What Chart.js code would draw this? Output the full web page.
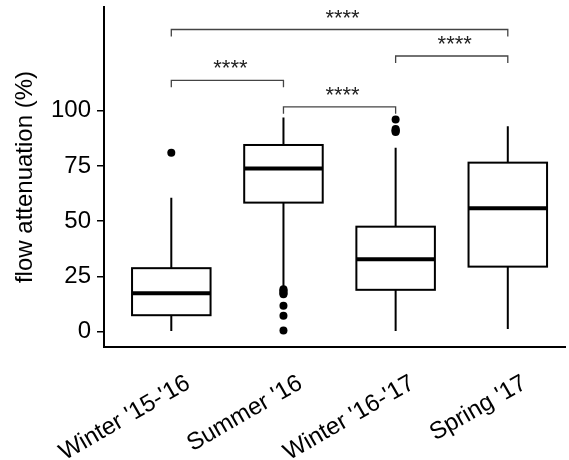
<!DOCTYPE html>
<html>
<head>
<meta charset="utf-8">
<script src="https://cdn.jsdelivr.net/npm/chart.js@4"></script>
<style>
  html, body { margin: 0; padding: 0; background: #fff; }
  #wrap { width: 569px; height: 460px; position: relative; }
</style>
</head>
<body>
<div id="wrap"><canvas id="flowChart"></canvas></div>
<script>
// Flow attenuation per season, box plots with significance brackets
const seasons = ["Winter '15-'16", "Summer '16", "Winter '16-'17", "Spring '17"];
const whiskerLow = [0.3, 20.2, 0.3, 1.2];
const lowerQuartile = [7.4, 58.4, 18.9, 29.4];
const medians = [17.4, 73.9, 32.8, 55.8];
const upperQuartile = [28.7, 84.5, 47.5, 76.5];
const whiskerHigh = [60.6, 97.0, 83.3, 93.0];
const outliers = [
    [81.0],
    [19.2, 18.6, 18.0, 17.4, 16.9, 11.7, 7.2, 0.5],
    [96.1, 91.7, 91.2, 90.8, 90.4],
    []
];
const yTicks = [0, 25, 50, 75, 100];

// pairwise comparisons: [from, to, bracket height, label]
const pairFrom = [1, 2, 3, 1];
const pairTo = [2, 3, 4, 4];
const pairY = [113.8, 101.8, 124.8, 136.8];
const pairLabel = ['****', '****', '****', '****'];

const FONT = '"Liberation Sans", Arial, sans-serif';

const outlierPoints = [];
outliers.forEach((vals, i) => vals.forEach(v => outlierPoints.push({ x: i + 1, y: v })));

// draws boxes, whiskers, medians and brackets with the chart scales
const boxPlugin = {
    id: 'boxes',
    beforeDatasetsDraw(chart) {
        const ctx = chart.ctx;
        const xs = chart.scales.x, ys = chart.scales.y;
        const half = 0.35;
        ctx.save();
        ctx.strokeStyle = '#000';
        ctx.lineCap = 'butt';
        seasons.forEach((s, i) => {
            const c = xs.getPixelForValue(i + 1);
            const l = xs.getPixelForValue(i + 1 - half);
            const r = xs.getPixelForValue(i + 1 + half);
            const yq1 = ys.getPixelForValue(lowerQuartile[i]);
            const yq3 = ys.getPixelForValue(upperQuartile[i]);
            // whiskers
            ctx.lineWidth = 2;
            ctx.beginPath();
            ctx.moveTo(c, ys.getPixelForValue(whiskerLow[i]));
            ctx.lineTo(c, yq1);
            ctx.moveTo(c, yq3);
            ctx.lineTo(c, ys.getPixelForValue(whiskerHigh[i]));
            ctx.stroke();
            // box
            ctx.fillStyle = '#fff';
            ctx.fillRect(l, yq3, r - l, yq1 - yq3);
            ctx.lineWidth = 2;
            ctx.strokeRect(l, yq3, r - l, yq1 - yq3);
            // median
            const ym = ys.getPixelForValue(medians[i]);
            ctx.lineWidth = 4;
            ctx.beginPath();
            ctx.moveTo(l, ym);
            ctx.lineTo(r, ym);
            ctx.stroke();
        });

        // significance brackets
        const tick = 3.2;
        ctx.strokeStyle = '#444';
        ctx.lineWidth = 1.3;
        ctx.fillStyle = '#222';
        ctx.font = '22px ' + FONT;
        ctx.textAlign = 'center';
        ctx.textBaseline = 'alphabetic';
        pairFrom.forEach((a, k) => {
            const x1 = xs.getPixelForValue(a);
            const x2 = xs.getPixelForValue(pairTo[k]);
            const yb = ys.getPixelForValue(pairY[k]);
            const yt = ys.getPixelForValue(pairY[k] - tick);
            ctx.beginPath();
            ctx.moveTo(x1, yt);
            ctx.lineTo(x1, yb);
            ctx.lineTo(x2, yb);
            ctx.lineTo(x2, yt);
            ctx.stroke();
            ctx.fillText(pairLabel[k], (x1 + x2) / 2 + 3, yb - 5);
        });
        ctx.restore();
    }
};

const chart = new Chart(document.getElementById('flowChart'), {
    type: 'scatter',
    data: {
        datasets: [{
            label: 'outliers',
            data: outlierPoints,
            pointRadius: 4,
            pointHoverRadius: 4,
            backgroundColor: '#000',
            borderWidth: 0
        }]
    },
    options: {
        responsive: true,
        maintainAspectRatio: false,
        animation: false,
        layout: { padding: { top: 7, right: 0, left: 0, bottom: 0 } },
        plugins: {
            legend: { display: false },
            tooltip: { enabled: false }
        },
        scales: {
            x: {
                type: 'linear',
                min: 0.4,
                max: 4.51,
                afterBuildTicks: (scale) => { scale.ticks = seasons.map((s, i) => ({ value: i + 1 })); },
                afterFit: (scale) => {
                    scale.height = 113;
                    scale.paddingLeft = 0;
                    scale.paddingRight = 0;
                },
                grid: { display: false, drawTicks: false },
                border: { display: true, color: '#000', width: 2 },
                ticks: {
                    autoSkip: false,
                    minRotation: 30,
                    maxRotation: 30,
                    padding: 22,
                    labelOffset: 17,
                    color: '#000',
                    font: { family: FONT, size: 24 },
                    callback: (v) => seasons[v - 1]
                }
            },
            y: {
                min: -7,
                max: 147,
                afterBuildTicks: (scale) => { scale.ticks = yTicks.map(v => ({ value: v })); },
                afterFit: (scale) => {
                    scale.width = 104;
                    scale.paddingTop = 0;
                    scale.paddingBottom = 0;
                },
                grid: { drawOnChartArea: false, drawTicks: true, tickLength: 7, color: '#000', lineWidth: 1.5 },
                border: { display: true, color: '#000', width: 2 },
                ticks: {
                    padding: 6,
                    color: '#000',
                    font: { family: FONT, size: 24 }
                },
                title: {
                    display: true,
                    text: 'flow attenuation (%)',
                    color: '#000',
                    font: { family: FONT, size: 24 },
                    padding: { top: 11, bottom: 0 }
                }
            }
        }
    },
    plugins: [boxPlugin]
});
</script>
</body>
</html>
